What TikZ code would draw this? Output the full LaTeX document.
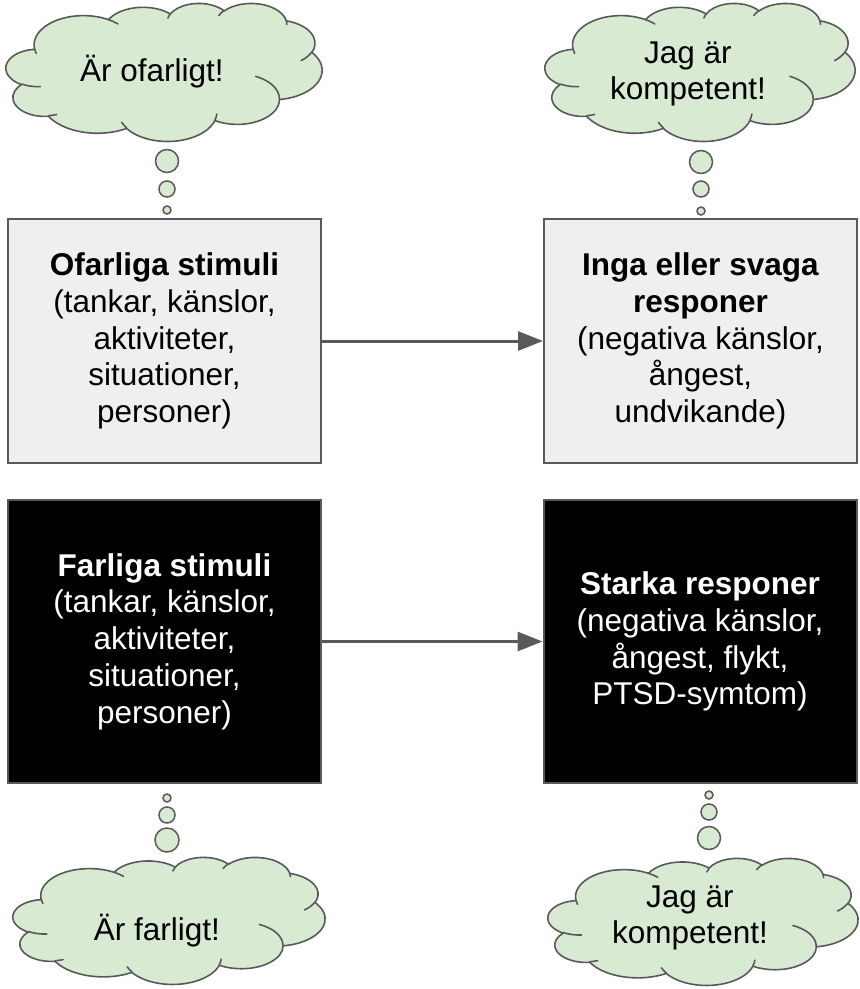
\documentclass[tikz,border=0pt]{standalone}
\usepackage{fontspec}
\setmainfont{Liberation Sans}
\usetikzlibrary{arrows.meta}
\definecolor{cloudfill}{HTML}{D9EAD3}
\definecolor{edgegray}{HTML}{595959}
\definecolor{lightbox}{HTML}{EFEFEF}

\newcommand\cldsetup[4]{%
  \pgfmathsetmacro\cldx{#1}%
  \pgfmathsetmacro\cldy{#2}%
  \pgfmathsetmacro\cldsx{#3/43.2}%
  \pgfmathsetmacro\cldsy{#4/43.2}}
\newcommand\cldmove[2]{%
  \pgfmathsetmacro\cldpx{\cldx+#1*\cldsx}%
  \pgfmathsetmacro\cldpy{-\cldy-#2*\cldsy}%
  \pgfpathmoveto{\pgfpoint{\cldpx pt}{\cldpy pt}}}
\newcommand\cldarc[4]{%
  \pgfmathsetmacro\cldA{#3}%
  \pgfmathsetmacro\cldB{(#3)+(#4)}%
  \pgfmathsetmacro\cldrA{atan2(#1*sin(\cldA),#2*cos(\cldA))}%
  \pgfmathsetmacro\cldrB{atan2(#1*sin(\cldB),#2*cos(\cldB))}%
  \pgfmathsetmacro\cldtA{-((\cldrA)+360*round(((\cldA)-(\cldrA))/360))}%
  \pgfmathsetmacro\cldtB{-((\cldrB)+360*round(((\cldB)-(\cldrB))/360))}%
  \pgfmathsetmacro\cldrx{#1*\cldsx}%
  \pgfmathsetmacro\cldry{#2*\cldsy}%
  \pgfpatharc{\cldtA}{\cldtB}{\cldrx pt and \cldry pt}}
\newcommand\cloudoutline{%
  \cldmove{3.9}{14.37}%
  \cldarc{6.753}{9.19}{-190.4875}{123.7805}%
  \cldarc{5.333}{7.267}{-144.1024}{89.9452}%
  \cldarc{4.365}{5.945}{-145.8079}{99.7230}%
  \cldarc{4.857}{6.595}{-130.9861}{117.2417}%
  \cldarc{5.333}{7.273}{-78.7089}{109.0269}%
  \cldarc{6.775}{9.22}{-46.2673}{130.2690}%
  \cldarc{5.785}{7.867}{0.6250}{114.0333}%
  \cldarc{6.752}{9.215}{22.4516}{115.1726}%
  \cldarc{7.72}{10.543}{66.2426}{75.7110}%
  \cldarc{4.36}{5.918}{-274.9421}{146.7356}%
  \cldarc{4.345}{5.945}{-246.8285}{152.5189}%
  \pgfpathclose}
\newcommand\cloudcreases{%
  \cldmove{4.693}{26.177}\cldarc{4.345}{5.945}{86.742}{26.4295}%
  \cldmove{6.928}{34.899}\cldarc{4.36}{5.918}{73.6105}{11.4475}%
  \cldmove{16.478}{39.09}\cldarc{6.752}{9.215}{137.6242}{14.0811}%
  \cldmove{28.827}{34.751}\cldarc{6.752}{9.215}{6.4533}{15.9984}%
  \cldmove{34.129}{22.954}\cldarc{5.785}{7.867}{-70.2924}{70.9174}%
  \cldmove{41.798}{15.354}\cldarc{5.333}{7.273}{30.318}{27.7515}%
  \cldmove{38.324}{5.426}\cldarc{4.857}{6.595}{-13.7443}{14.8589}%
  \cldmove{29.078}{3.952}\cldarc{4.857}{6.595}{-149.1815}{18.1954}%
  \cldmove{22.141}{4.72}\cldarc{4.365}{5.945}{-163.4943}{17.6864}%
  \cldmove{14.0}{5.192}\cldarc{6.753}{9.19}{-66.707}{12.3194}%
  \cldmove{4.127}{15.789}\cldarc{6.753}{9.19}{157.6544}{11.8582}}
\newcommand\drawcloud[4]{%
  \begin{pgfscope}
  \pgfsetlinewidth{1.6pt}%
  \pgfsetstrokecolor{edgegray}%
  \pgfsetfillcolor{cloudfill}%
  \pgfsetroundjoin
  \pgfsetroundcap
  \cldsetup{#1}{#2}{#3}{#4}%
  \cloudoutline\pgfusepath{fill,stroke}%
  \cloudcreases\pgfusepath{stroke}%
  \end{pgfscope}}

\tikzset{
  txt/.style={font=\fontsize{31.5}{36.7}\selectfont, align=center, inner sep=0pt},
  box/.style={txt, draw=edgegray, line width=2pt, minimum width=313pt},
  lightbox/.style={box, fill=lightbox, text=black},
  darkbox/.style={box, fill=black, text=white},
  bubble/.style={circle, draw=edgegray, fill=cloudfill, line width=1.5pt, inner sep=0pt},
  arrowline/.style={draw=edgegray, line width=3pt, -{Triangle[length=25pt,width=19pt]}},
}

\begin{document}
\begin{tikzpicture}[x=1pt,y=-1pt]
\useasboundingbox (0,0) rectangle (860,989);

% clouds
\drawcloud{6}{3}{316}{138}
\drawcloud{545}{3}{310}{138}
\drawcloud{13}{857}{312}{127}
\drawcloud{548}{858}{310}{127}

\node[txt] (c1) at (152,72) {Är ofarligt!};
\node[txt] (c2) at (688,74) {Jag är\\kompetent!};
\node[txt] (c3) at (157,931) {Är farligt!};
\node[txt] (c4) at (690,918) {Jag är\\kompetent!};

% bubbles
\node[bubble, minimum size=23pt] (b1) at (167,161) {};
\node[bubble, minimum size=16pt] (b2) at (167,189) {};
\node[bubble, minimum size=8pt] (b3) at (167,210) {};
\node[bubble, minimum size=23pt] (b4) at (701,162) {};
\node[bubble, minimum size=16pt] (b5) at (701,189) {};
\node[bubble, minimum size=8pt] (b6) at (701,211) {};
\node[bubble, minimum size=8pt] (b7) at (167,798) {};
\node[bubble, minimum size=16pt] (b8) at (167,815) {};
\node[bubble, minimum size=24pt] (b9) at (167,840) {};
\node[bubble, minimum size=8pt] (b10) at (709,795) {};
\node[bubble, minimum size=16pt] (b11) at (709,812) {};
\node[bubble, minimum size=23pt] (b12) at (709,838) {};

% boxes
\node[lightbox, minimum height=244pt] (tl) at (164.5,341)
  {\textbf{Ofarliga stimuli}\\(tankar, känslor,\\aktiviteter,\\situationer,\\personer)};
\node[lightbox, minimum height=244pt] (tr) at (700.5,341)
  {\textbf{Inga eller svaga}\\\textbf{responer}\\(negativa känslor,\\ångest,\\undvikande)};
\node[darkbox, minimum height=283pt] (bl) at (164.5,641.5)
  {\textbf{Farliga stimuli}\\(tankar, känslor,\\aktiviteter,\\situationer,\\personer)};
\node[darkbox, minimum height=283pt] (br) at (700,641.5)
  {\textbf{Starka responer}\\(negativa känslor,\\ångest, flykt,\\PTSD-symtom)};

\draw[arrowline] (tl.east) -- (tr.west);
\draw[arrowline] (bl.east) -- (br.west);
\end{tikzpicture}
\end{document}
